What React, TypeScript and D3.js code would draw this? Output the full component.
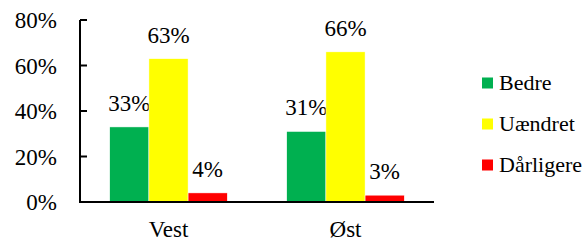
import React from "react";
import * as d3 from "d3";

const categories = ["Vest", "Øst"];
const seriesNames = ["Bedre", "Uændret", "Dårligere"];
const seriesColors = ["#00B050", "#FFFF00", "#FF0000"];
const bedre = [33, 31];
const uaendret = [63, 66];
const daarligere = [4, 3];
const yTicks = [0, 20, 40, 60, 80];

const seriesValues = [bedre, uaendret, daarligere];

function App() {
  const width = 585,
    height = 241;
  const margin = { top: 20, left: 80, right: 151, bottom: 39 };
  const plotW = width - margin.left - margin.right;
  const plotH = height - margin.top - margin.bottom;
  const font = "'Liberation Serif', serif";

  const x0 = d3.scaleBand().domain(categories).range([0, plotW]).paddingInner(0).paddingOuter(0);
  const x1 = d3
    .scaleBand()
    .domain(seriesNames)
    .range([x0.bandwidth() * 0.168, x0.bandwidth() * 0.832]);
  const y = d3.scaleLinear().domain([0, 80]).range([plotH, 0]);

  return (
    <svg
      width={width}
      height={height}
      style={{ position: "absolute", left: 0, top: 0, background: "#fff", fontFamily: font }}
    >
      <g transform={`translate(${margin.left},${margin.top})`}>
        {categories.map((c, ci) => (
          <g key={c} transform={`translate(${x0(c)},0)`}>
            {seriesNames.map((s, si) => {
              const v = seriesValues[si][ci];
              const bx = x1(s) as number;
              return (
                <g key={s}>
                  <rect
                    x={bx}
                    y={y(v)}
                    width={x1.bandwidth()}
                    height={plotH - y(v)}
                    fill={seriesColors[si]}
                    stroke="#fff"
                    strokeWidth={0.5}
                  />
                  <text
                    x={bx + x1.bandwidth() / 2}
                    y={y(v) - 16}
                    textAnchor="middle"
                    fontSize={23}
                    fill="#000"
                  >
                    {v}%
                  </text>
                </g>
              );
            })}
            <text
              x={x0.bandwidth() / 2}
              y={plotH + 35}
              textAnchor="middle"
              fontSize={23}
              fill="#000"
            >
              {c}
            </text>
          </g>
        ))}
        {yTicks.map((t) => (
          <g key={t} transform={`translate(0,${y(t)})`}>
            <line x1={0} x2={7} stroke="#000" strokeWidth={2} />
            <text x={-23} dy="0.36em" textAnchor="end" fontSize={23} fill="#000">
              {t}%
            </text>
          </g>
        ))}
        <line x1={0} x2={0} y1={0} y2={plotH} stroke="#000" strokeWidth={2} />
        <line x1={-1} x2={plotW} y1={plotH} y2={plotH} stroke="#000" strokeWidth={2} />
      </g>
      <g transform="translate(482,83)">
        {seriesNames.map((s, i) => (
          <g key={s} transform={`translate(0,${i * 41})`}>
            <rect x={0} y={-5.5} width={11} height={11} fill={seriesColors[i]} />
            <text x={17} dy="0.34em" fontSize={22} fill="#000">
              {s}
            </text>
          </g>
        ))}
      </g>
    </svg>
  );
}

export default App;
